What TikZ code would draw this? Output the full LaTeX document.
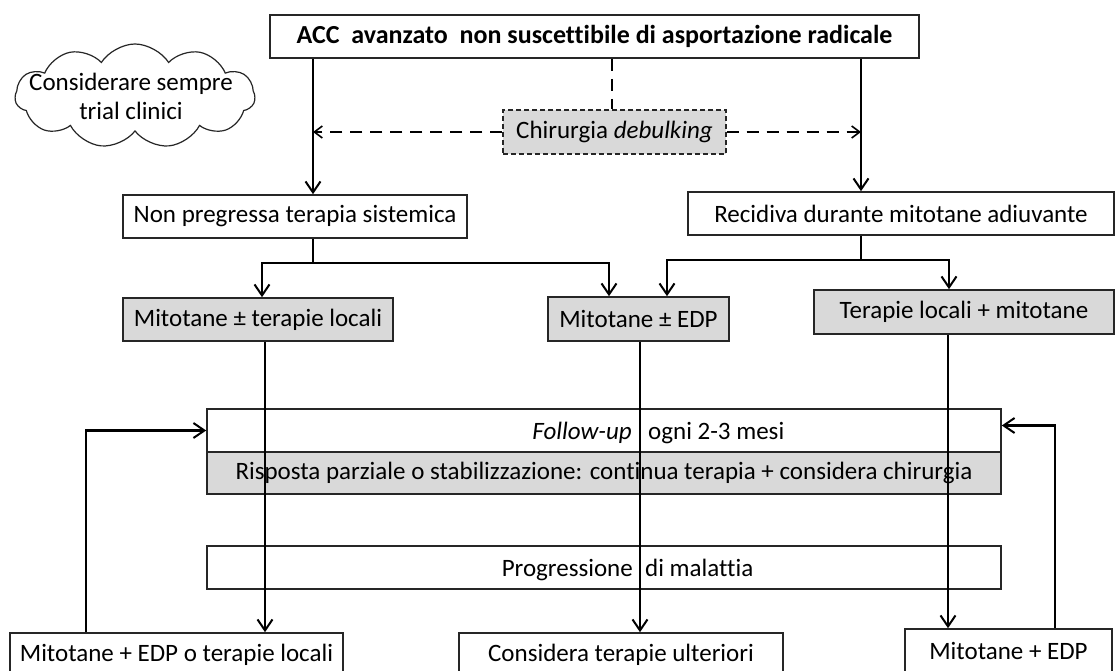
\documentclass[tikz,border=0pt]{standalone}
\usepackage{fontspec}
\setmainfont{Carlito}[Ligatures=NoCommon]
\usetikzlibrary{arrows.meta,shapes.symbols,calc}
\definecolor{boxgray}{HTML}{D9D9D9}
\begin{document}
\begin{tikzpicture}[x=1pt,y=-1pt,
  box/.style={draw=black!85,line width=1.6pt,inner sep=0pt,font=\fontsize{25}{29}\selectfont},
  gbox/.style={box,fill=boxgray},
  conn/.style={line width=2.6pt,-{Straight Barb[length=11pt,width=15pt,line width=2pt]}},
  plain/.style={line width=2.6pt},
  dconn/.style={line width=2pt,dash pattern=on 12pt off 8pt,-{Straight Barb[length=8pt,width=12pt,line width=1.6pt]}},
  dplain/.style={line width=2pt,dash pattern=on 12pt off 8pt},
  lbl/.style={inner sep=0pt,font=\fontsize{25}{29}\selectfont}]
\useasboundingbox (0,0) rectangle (1117,671);
\fill[white] (0,0) rectangle (1117,671);
% cloud
\node[cloud,draw=black!85,line width=1.2pt,cloud puffs=11,cloud puff arc=115,aspect=2.4,minimum width=240pt,minimum height=104pt] (cloud) at (135,96) {};
\node[lbl,align=center] (cloudtxt) at (131,96) {Considerare sempre\\trial clinici};
% boxes
\node[box,minimum width=649pt,minimum height=43pt,font=\fontsize{26}{30}\selectfont\bfseries] (title) at (594.5,36.5) {ACC\ \ avanzato\ \ non suscettibile di asportazione radicale};
\node[box,fill=boxgray,dash pattern=on 5pt off 3pt,line width=1.2pt,minimum width=223pt,minimum height=44pt] (chir) at (614.5,132) {Chirurgia \textit{debulking}};
\node[box,minimum width=344pt,minimum height=43pt] (npt) at (295,216.5) {Non pregressa terapia sistemica};
\node[box,minimum width=426pt,minimum height=43pt] (rec) at (901,213.5) {Recidiva durante mitotane adiuvante};
\node[gbox,minimum width=270pt,minimum height=43pt] (mtl) at (258,319.5) {Mitotane ± terapie locali};
\node[gbox,minimum width=181pt,minimum height=44pt] (medp) at (638.5,319) {Mitotane ± EDP};
\node[gbox,minimum width=300pt,minimum height=44pt] (tlm) at (964,312) {Terapie locali + mitotane};
\node[box,minimum width=794pt,minimum height=43pt] (fol) at (604,430.5) {};
\node[gbox,minimum width=794pt,minimum height=42pt] (risp) at (604,473) {Risposta parziale o stabilizzazione: continua terapia + considera chirurgia};
\node[box,minimum width=794pt,minimum height=43pt] (prog) at (604,567.5) {};
\node[box,minimum width=333pt,minimum height=43pt] (b1) at (176.5,654.5) {Mitotane + EDP o terapie locali};
\node[box,minimum width=324pt,minimum height=43pt] (cons) at (621,654.5) {Considera terapie ulteriori};
\node[box,minimum width=207pt,minimum height=43pt] (me2) at (1008.5,650.5) {Mitotane + EDP};
\node[lbl,anchor=base east] (foltxtA) at (632,439) {\textit{Follow-up}};
\node[lbl,anchor=base west] (foltxtB) at (648,439) {ogni 2-3 mesi};
\node[lbl,anchor=base east] (progtxtA) at (633,576) {Progressione};
\node[lbl,anchor=base west] (progtxtB) at (645,576) {di malattia};
% x coordinates for connectors
\coordinate (xL) at (313,0);
\coordinate (xR) at (861,0);
\coordinate (xD) at (612,0);
\coordinate (xA) at (262,0);
\coordinate (xB) at (609,0);
\coordinate (xC) at (667,0);
\coordinate (xE) at (949,0);
\coordinate (x1) at (265,0);
\coordinate (x2) at (640,0);
\coordinate (x3) at (948,0);
\coordinate (x4) at (86,0);
\coordinate (x5) at (1055,0);
\coordinate (yA) at (0,263);
\coordinate (yB) at (0,260);
% connectors
\draw[dplain] (title.south -| xD) -- (chir.north -| xD);
\draw[conn] (title.south -| xL) -- (npt.north -| xL);
\draw[conn] (title.south -| xR) -- (rec.north -| xR);
\draw[dconn] (chir.west) -- (chir.west -| xL);
\draw[dconn] (chir.east) -- (chir.east -| xR);
\draw[plain] (npt.south -| xL) -- (yA -| xL);
\draw[conn] (yA -| xL) -| (mtl.north -| xA);
\draw[conn] (yA -| xL) -| (medp.north -| xB);
\draw[plain] (rec.south -| xR) -- (yB -| xR);
\draw[conn] (yB -| xR) -| (medp.north -| xC);
\draw[conn] (yB -| xR) -| (tlm.north -| xE);
\draw[conn] (mtl.south -| x1) -- (b1.north -| x1);
\draw[conn] (medp.south -| x2) -- (cons.north -| x2);
\draw[conn] (tlm.south -| x3) -- (me2.north -| x3);
\draw[conn] (b1.north -| x4) |- (fol.west);
\draw[conn] (me2.north -| x5) |- ($(fol.east)+(0,-5)$);
\end{tikzpicture}
\end{document}
